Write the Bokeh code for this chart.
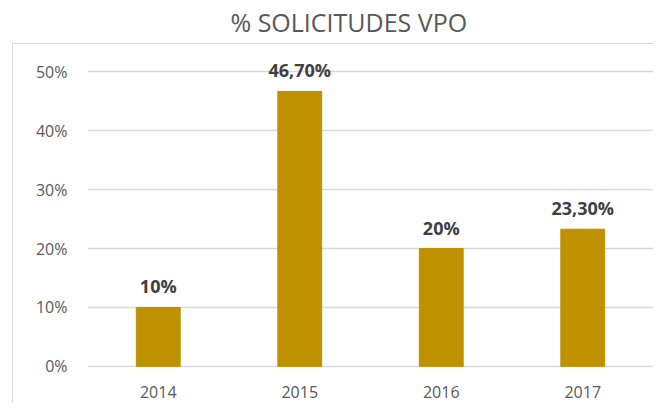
from bokeh.plotting import figure
from bokeh.models import ColumnDataSource, Range1d, FactorRange, NumeralTickFormatter, FixedTicker, InlineStyleSheet
from bokeh.core.properties import value
from bokeh.embed import file_html
from bokeh.resources import INLINE

title_text = "% SOLICITUDES VPO"
years = ["2014", "2015", "2016", "2017"]
shares = [0.10, 0.467, 0.20, 0.233]
labels = ["10%", "46,70%", "20%", "23,30%"]
y_ticks = [0, 0.1, 0.2, 0.3, 0.4, 0.5]

src = ColumnDataSource(dict(year=years, share=shares, label=labels))

frame_css = InlineStyleSheet(css="""
:host::after {
  content: '';
  position: absolute;
  left: 12px; top: 43px; right: 0px; bottom: 0px;
  border-left: 1.5px solid #d9d9d9;
  border-top: 1.5px solid #d9d9d9;
  pointer-events: none;
}
""")

p = figure(x_range=FactorRange(*years), y_range=Range1d(-0.002, 0.5467),
           width=653, height=403, output_backend="svg", toolbar_location=None,
           min_border_left=87, min_border_right=0, min_border_bottom=36, min_border_top=43,
           title=title_text, stylesheets=[frame_css])
p.outline_line_color = None
p.background_fill_color = "white"
p.border_fill_color = "white"

p.title.align = "left"
p.title.vertical_align = "top"
p.title.offset = 143
p.title.standoff = 8
p.title.text_font = "Open Sans"
p.title.text_font_size = "25px"
p.title.text_font_style = "normal"
p.title.text_color = "#595959"

p.vbar(x="year", top="share", width=0.31, source=src, fill_color="#BF9000", line_color="#BF9000")
p.text(x="year", y="share", text="label", source=src, text_align="center", text_baseline="bottom",
       y_offset=-9, text_font=value("Open Sans"), text_font_style="bold", text_font_size="18px",
       text_color="#404040")

p.yaxis.ticker = FixedTicker(ticks=y_ticks)
p.yaxis.formatter = NumeralTickFormatter(format="0%")
for ax in (p.xaxis[0], p.yaxis[0]):
    ax.axis_line_color = None
    ax.major_tick_line_color = None
    ax.minor_tick_line_color = None
    ax.major_tick_out = 0
    ax.minor_tick_out = 0
    ax.major_label_text_font = "Open Sans"
    ax.major_label_text_font_size = "16px"
    ax.major_label_text_color = "#595959"
p.yaxis.major_label_standoff = 20
p.xaxis.major_label_standoff = 18

p.xgrid.grid_line_color = None
p.ygrid.grid_line_color = "#d9d9d9"
p.ygrid.grid_line_width = 1.5

open("out.html", "w").write(file_html(p, INLINE))
